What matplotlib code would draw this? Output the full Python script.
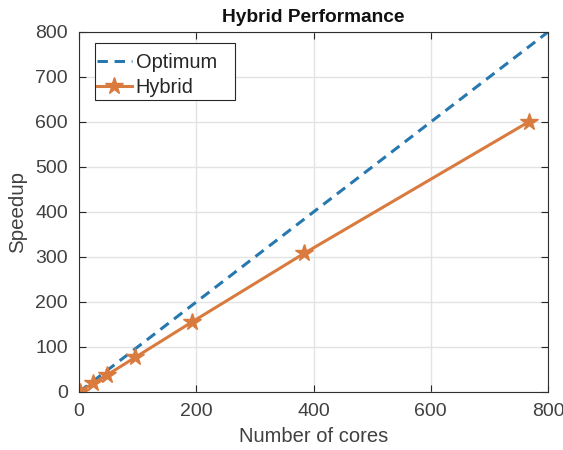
import matplotlib
matplotlib.use("Agg")
import matplotlib.pyplot as plt
from matplotlib.patches import Rectangle

plt.rcParams['font.family'] = ['Liberation Sans', 'DejaVu Sans']

cores = [1, 24, 48, 96, 192, 384, 768]
speedup = [1, 19, 38, 77, 155, 308, 601]
opt_x = [0, 800]
opt_y = [0, 800]

fig = plt.figure(figsize=(5.63, 4.5), dpi=100)
ax = fig.add_axes([0.1403, 0.1289, 0.8331, 0.8])

ax.plot(opt_x, opt_y, linestyle=(0, (3.4, 2.2)), color='#2878B0', lw=2.2, label='Optimum')
ax.plot(cores, speedup, '-*', color='#D97B3F', lw=2.2, markersize=13, label='Hybrid')

ax.set_xlim(0, 800)
ax.set_ylim(0, 800)
ax.set_xticks([0, 200, 400, 600, 800])
ax.set_yticks(range(0, 801, 100))
ax.grid(True, color='#e3e3e3', lw=1)
ax.set_axisbelow(True)
ax.tick_params(direction='in', length=5, width=0.8, color='#262626', labelcolor='#404040',
               labelsize=14, top=True, right=True, pad=8)
for s in ax.spines.values():
    s.set_color('#303030')
    s.set_linewidth(0.8)

ax.set_xlabel('Number of cores', fontsize=14.5, color='#404040', labelpad=5)
ax.set_ylabel('Speedup', fontsize=14.8, color='#404040', labelpad=6)
ax.set_title('Hybrid Performance', fontsize=13.8, fontweight='bold', color='#111111', pad=7)

leg = ax.legend(loc='upper left', bbox_to_anchor=(0.038, 0.942), fontsize=14.4,
                frameon=False, handlelength=1.75, borderpad=0, labelspacing=0.32,
                handletextpad=0.2, borderaxespad=0)
for t in leg.get_texts():
    t.set_color('#262626')
ax.add_patch(Rectangle((0.0341, 0.8111), 0.2985, 0.1583, transform=ax.transAxes,
                       facecolor='white', edgecolor='#262626', lw=0.8, zorder=4.5))
leg.set_zorder(5)

fig.savefig('out.png', dpi=100)
